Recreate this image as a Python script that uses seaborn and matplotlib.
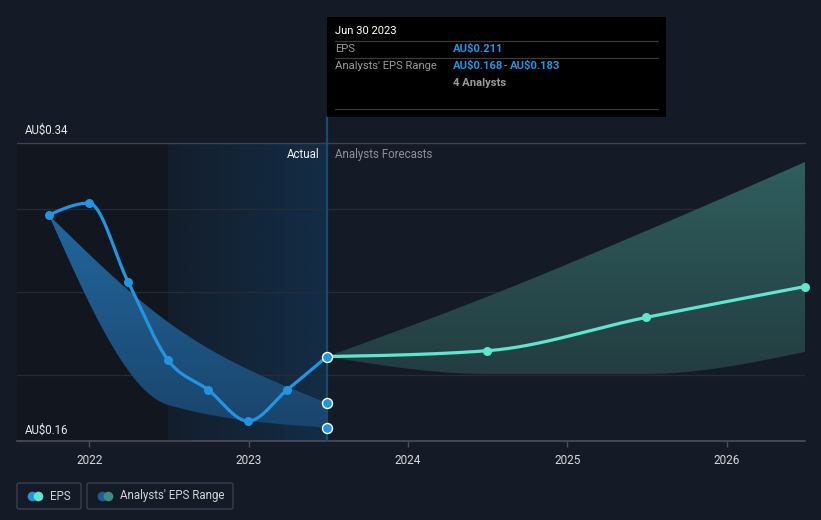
import numpy as np
import pandas as pd
import matplotlib
matplotlib.use("Agg")
import matplotlib.pyplot as plt
import matplotlib.dates as mdates
from matplotlib.patches import Rectangle, FancyBboxPatch
from matplotlib.colors import to_rgb
import seaborn as sns

# ---------------- data ----------------
eps_dates = ["2021-09-30", "2021-12-31", "2022-03-31", "2022-06-30",
             "2022-09-30", "2022-12-31", "2023-03-31", "2023-06-30"]
eps_values = [0.2965, 0.3037, 0.256, 0.209, 0.191, 0.172, 0.191, 0.211]

past_range_dates = ["2021-09-30", "2022-06-30", "2023-06-30"]
past_range_low = [0.2965, 0.1818, 0.168]
past_range_high = [0.2965, 0.2319, 0.183]

fc_dates = ["2023-06-30", "2024-06-30", "2025-06-30", "2026-06-30"]
fc_eps = [0.211, 0.2145, 0.2346, 0.2533]
fc_low = [0.211, 0.2005, 0.2005, 0.2138]
fc_high = [0.211, 0.247, 0.2868, 0.3285]

year_ticks = ["2022", "2023", "2024", "2025", "2026"]
y_labels = ["AU$0.34", "AU$0.16"]

# ---------------- helpers ----------------
W, H = 821, 520
BG = "#151b26"


def fx(x):
    return x / W


def fy(y):
    return 1 - y / H


def dnum(lst):
    return mdates.date2num(pd.to_datetime(lst))


def monotone(x, y, n=120):
    x = np.asarray(x, float)
    y = np.asarray(y, float)
    h = np.diff(x)
    s = np.diff(y) / h
    m = len(x)
    t = np.zeros(m)
    for i in range(1, m - 1):
        p = (s[i - 1] * h[i] + s[i] * h[i - 1]) / (h[i - 1] + h[i])
        v = (np.sign(s[i - 1]) + np.sign(s[i])) * min(abs(s[i - 1]), abs(s[i]), 0.5 * abs(p))
        t[i] = v
    if m > 2:
        t[0] = (3 * s[0] - t[1]) / 2
        t[-1] = (3 * s[-1] - t[-2]) / 2
    else:
        t[0] = t[-1] = s[0]
    xs, ys = [], []
    for i in range(m - 1):
        u = np.linspace(0, 1, n, endpoint=(i == m - 2))
        h00 = 2 * u**3 - 3 * u**2 + 1
        h10 = u**3 - 2 * u**2 + u
        h01 = -2 * u**3 + 3 * u**2
        h11 = u**3 - u**2
        xs.append(x[i] + u * h[i])
        ys.append(h00 * y[i] + h10 * h[i] * t[i] + h01 * y[i + 1] + h11 * h[i] * t[i + 1])
    return np.concatenate(xs), np.concatenate(ys)


# ---------------- figure ----------------
sns.set_theme(style="dark")
plt.rcParams["font.family"] = ["Roboto", "DejaVu Sans"]

fig = plt.figure(figsize=(W / 100, H / 100), dpi=100, facecolor=BG)
ax = fig.add_axes([fx(17), fy(441), (805 - 17) / W, (441 - 143) / H])
ax.set_facecolor(BG)

x0, x1 = mdates.date2num(pd.Timestamp("2021-07-19")), mdates.date2num(pd.Timestamp("2026-06-30"))
ymin, ymax = 0.16, 0.34
hl0, hl1 = dnum(["2022-06-30"])[0], dnum(["2023-06-30"])[0]

# past dark region
ax.axvspan(x0, hl0, color="#12161e", zorder=0, lw=0)
# highlight gradient
c_a, c_b = np.array(to_rgb("#131e2b")), np.array(to_rgb("#132d46"))
grad = np.linspace(0, 1, 256)[None, :, None]
img = c_a[None, None, :] * (1 - grad) + c_b[None, None, :] * grad
ax.imshow(img, extent=[hl0, hl1, ymin, ymax], aspect="auto", zorder=0.5, interpolation="bilinear")

# gridlines
for g in [0.20, 0.25, 0.30]:
    ax.axhline(g, color="#262c37", lw=0.9, zorder=1)
ax.axhline(0.34, color="#3d424b", lw=1.0, zorder=1, clip_on=False)

# past range band (gradient fill)
px_, plo = monotone(dnum(past_range_dates), past_range_low)
_, phi = monotone(dnum(past_range_dates), past_range_high)
poly = ax.fill_between(px_, plo, phi, color="none", lw=0, zorder=2)
ta, tb = np.array(to_rgb("#22679e")), np.array(to_rgb("#1a446a"))
gv = np.linspace(0, 1, 256)[:, None, None]
img2 = ta[None, None, :] * (1 - gv) + tb[None, None, :] * gv
im2 = ax.imshow(img2, extent=[px_.min(), px_.max(), 0.165, 0.30], aspect="auto", zorder=2,
                interpolation="bilinear")
im2.set_clip_path(poly.get_paths()[0], transform=ax.transData)

# forecast band (gradient fill)
fx_, flo = monotone(dnum(fc_dates), fc_low)
_, fhi = monotone(dnum(fc_dates), fc_high)
poly2 = ax.fill_between(fx_, flo, fhi, color="none", lw=0, zorder=2)
ta, tb = np.array(to_rgb("#305e5e")), np.array(to_rgb("#1f3338"))
img3 = ta[None, None, :] * (1 - gv) + tb[None, None, :] * gv
im3 = ax.imshow(img3, extent=[fx_.min(), fx_.max(), 0.16, 0.33], aspect="auto", zorder=2,
                interpolation="bilinear")
im3.set_clip_path(poly2.get_paths()[0], transform=ax.transData)

# hover vertical line
ax.axvline(hl1, ymin=0, ymax=(441 - 117) / (441 - 143), color="#1b4a70", lw=1.6,
           zorder=3, clip_on=False)

# lines
ex, ey = monotone(dnum(eps_dates), eps_values)
sns.lineplot(x=ex, y=ey, ax=ax, color="#2394df", lw=2.3, sort=False, estimator=None, zorder=5)
fxl, fyl = monotone(dnum(fc_dates), fc_eps)
sns.lineplot(x=fxl, y=fyl, ax=ax, color="#5fe6cf", lw=2.3, sort=False, estimator=None, zorder=5)

# markers
ed = dnum(eps_dates)
sns.scatterplot(x=ed[:-1], y=eps_values[:-1], ax=ax, color="#2394df", s=42, linewidth=0, zorder=6)
fd = dnum(fc_dates)
sns.scatterplot(x=fd[1:], y=fc_eps[1:], ax=ax, color="#5fe6cf", s=42, linewidth=0, zorder=6)
sns.scatterplot(x=[ed[-1], ed[-1], ed[-1]], y=[eps_values[-1], past_range_low[-1], past_range_high[-1]],
                ax=ax, color="#2394df", s=52, edgecolor="white", linewidth=1.0, zorder=7)
for c in ax.collections[-3:]:
    c.set_clip_on(False)

ax.set_xlim(x0, x1)
ax.set_ylim(ymin, ymax)

# axes styling
for sp in ["top", "right", "left"]:
    ax.spines[sp].set_visible(False)
ax.spines["bottom"].set_color("#4a4f59")
ax.spines["bottom"].set_linewidth(1.2)
ax.set_yticks([])
ax.set_xticks(dnum([f"{y}-01-01" for y in year_ticks]))
ax.set_xticklabels(year_ticks)
ax.tick_params(axis="x", colors="#4a4f59", length=4, width=1, pad=5, labelsize=8.5,
               labelcolor="#d6d9de", bottom=True)
ax.grid(False)
ax.set_xlabel("")
ax.set_ylabel("")

# y labels
fig.text(fx(25), fy(130), y_labels[0], color="#e6e8eb", fontsize=8.3, va="center", ha="left")
fig.text(fx(25), fy(430), y_labels[1], color="#e6e8eb", fontsize=8.3, va="center", ha="left")

# region labels
fig.text(fx(319), fy(154), "Actual", color="#f0f2f4", fontsize=8.3, va="center", ha="right")
fig.text(fx(335), fy(154), "Analysts Forecasts", color="#8c9199", fontsize=8.3, va="center", ha="left")

# tooltip
fig.patches.append(Rectangle((fx(327), fy(117)), (666 - 327) / W, (117 - 17) / H,
                             transform=fig.transFigure, facecolor="#000000", edgecolor="none", zorder=10))
for ly in [41, 58, 109]:
    fig.add_artist(plt.Line2D([fx(335), fx(658)], [fy(ly), fy(ly)], transform=fig.transFigure,
                              color="#3b3b3b", lw=0.9, zorder=11))
tk = dict(fontsize=8.1, va="center", ha="left", zorder=12)
fig.text(fx(335), fy(31), "Jun 30 2023", color="#ffffff", **tk)
fig.text(fx(335), fy(49), "EPS", color="#9a9a9a", **tk)
fig.text(fx(453), fy(49), "AU$0.211", color="#2394df", fontweight="bold", **tk)
fig.text(fx(335), fy(66), "Analysts' EPS Range", color="#9a9a9a", **tk)
fig.text(fx(453), fy(66), "AU$0.168", color="#2394df", fontweight="bold", **tk)
fig.text(fx(504), fy(66), "-", color="#9a9a9a", **tk)
fig.text(fx(510), fy(66), "AU$0.183", color="#2394df", fontweight="bold", **tk)
fig.text(fx(453), fy(83), "4 Analysts", color="#9a9a9a", fontweight="bold", **tk)

# legend boxes
for (bx0, bx1) in [(17, 81), (87, 233)]:
    fig.patches.append(FancyBboxPatch((fx(bx0), fy(509)), (bx1 - bx0) / W, (509 - 483) / H,
                                      boxstyle="round,pad=0,rounding_size=0.003",
                                      transform=fig.transFigure, facecolor="none",
                                      edgecolor="#3a3f48", lw=1.0))
leg_ax = fig.add_axes([0, 0, 1, 1], facecolor="none")
leg_ax.set_xlim(0, W)
leg_ax.set_ylim(H, 0)
leg_ax.axis("off")
leg_ax.scatter([32], [496], s=48, color="#2394df", lw=0)
leg_ax.scatter([38], [496], s=48, color="#5fe6cf", lw=0)
leg_ax.scatter([102], [496], s=48, color="#1f5f8f", lw=0)
leg_ax.scatter([108], [496], s=48, color="#3d8a87", lw=0)
fig.text(fx(50), fy(496), "EPS", color="#d0d3d8", fontsize=8.3, va="center", ha="left")
fig.text(fx(120), fy(496), "Analysts' EPS Range", color="#d0d3d8", fontsize=8.3, va="center", ha="left")

fig.savefig("out.png", dpi=100, facecolor=BG)
